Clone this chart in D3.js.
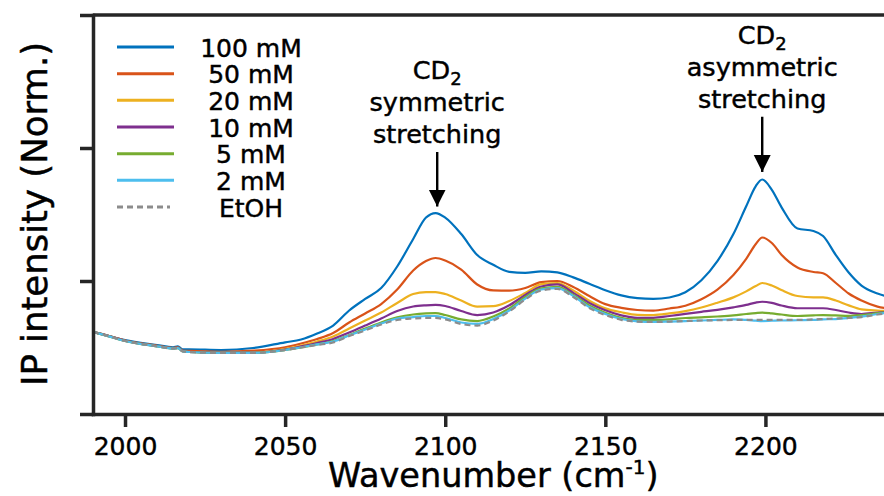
<!DOCTYPE html>
<html>
<head>
<meta charset="utf-8">
<script src="https://cdn.jsdelivr.net/npm/d3@7"></script>
<style>
body { margin: 0; background: #fff; }
text { font-family: "DejaVu Sans", Verdana, sans-serif; fill: #000; stroke: #000; stroke-width: 0.45px; }
</style>
</head>
<body>
<svg id="chart" width="884" height="496"></svg>
<script>
// spectra (normalised IP intensity)
var wavenumber = [1990, 1995, 2000, 2010, 2015, 2016.5, 2018, 2020, 2030, 2040, 2050, 2055, 2060, 2065, 2070, 2075, 2080, 2085, 2090, 2094, 2097, 2100, 2105, 2110, 2115, 2120, 2125, 2130, 2135, 2140, 2145, 2150, 2155, 2160, 2165, 2170, 2175, 2180, 2185, 2190, 2194, 2197, 2199, 2202, 2205, 2210, 2215, 2218, 2222, 2226, 2230, 2235, 2240];

var int100 = [0.617, 0.586, 0.556, 0.519, 0.502, 0.508, 0.486, 0.486, 0.481, 0.496, 0.539, 0.560, 0.605, 0.665, 0.778, 0.865, 0.947, 1.109, 1.316, 1.477, 1.511, 1.477, 1.353, 1.195, 1.122, 1.069, 1.061, 1.073, 1.065, 1.027, 0.979, 0.931, 0.892, 0.871, 0.865, 0.876, 0.916, 1.006, 1.150, 1.353, 1.562, 1.714, 1.763, 1.686, 1.556, 1.395, 1.376, 1.338, 1.195, 1.064, 0.966, 0.906, 0.872];
var int50 = [0.617, 0.586, 0.553, 0.513, 0.496, 0.502, 0.477, 0.474, 0.468, 0.476, 0.502, 0.530, 0.564, 0.609, 0.688, 0.756, 0.827, 0.936, 1.079, 1.150, 1.173, 1.154, 1.086, 0.974, 0.929, 0.927, 0.947, 0.992, 1.000, 0.955, 0.887, 0.826, 0.798, 0.782, 0.777, 0.793, 0.814, 0.863, 0.935, 1.045, 1.167, 1.278, 1.327, 1.286, 1.198, 1.102, 1.068, 1.058, 0.985, 0.906, 0.853, 0.807, 0.789];
var int20 = [0.617, 0.586, 0.551, 0.511, 0.494, 0.498, 0.474, 0.468, 0.461, 0.461, 0.490, 0.515, 0.545, 0.583, 0.643, 0.703, 0.763, 0.835, 0.902, 0.917, 0.917, 0.902, 0.853, 0.808, 0.811, 0.850, 0.910, 0.977, 0.985, 0.928, 0.851, 0.794, 0.765, 0.746, 0.744, 0.756, 0.774, 0.801, 0.837, 0.877, 0.922, 0.962, 0.985, 0.966, 0.932, 0.887, 0.877, 0.877, 0.853, 0.817, 0.787, 0.778, 0.774];
var int10 = [0.617, 0.586, 0.551, 0.511, 0.494, 0.498, 0.474, 0.468, 0.461, 0.461, 0.485, 0.508, 0.534, 0.564, 0.613, 0.665, 0.718, 0.774, 0.808, 0.817, 0.820, 0.812, 0.774, 0.744, 0.763, 0.817, 0.895, 0.959, 0.974, 0.911, 0.835, 0.780, 0.742, 0.723, 0.723, 0.737, 0.753, 0.768, 0.783, 0.802, 0.820, 0.838, 0.844, 0.835, 0.816, 0.795, 0.795, 0.795, 0.782, 0.763, 0.752, 0.763, 0.771];
var int5 = [0.617, 0.584, 0.549, 0.509, 0.492, 0.496, 0.471, 0.466, 0.459, 0.459, 0.481, 0.500, 0.523, 0.549, 0.594, 0.643, 0.688, 0.726, 0.748, 0.756, 0.758, 0.744, 0.711, 0.699, 0.733, 0.793, 0.880, 0.944, 0.956, 0.895, 0.816, 0.762, 0.724, 0.708, 0.708, 0.712, 0.722, 0.727, 0.733, 0.741, 0.752, 0.759, 0.762, 0.756, 0.748, 0.737, 0.742, 0.744, 0.741, 0.738, 0.744, 0.759, 0.774];
var int2 = [0.617, 0.584, 0.549, 0.509, 0.492, 0.496, 0.471, 0.466, 0.459, 0.459, 0.481, 0.502, 0.523, 0.545, 0.590, 0.635, 0.680, 0.718, 0.729, 0.737, 0.737, 0.722, 0.688, 0.677, 0.714, 0.778, 0.868, 0.936, 0.947, 0.887, 0.805, 0.752, 0.714, 0.697, 0.692, 0.695, 0.699, 0.703, 0.707, 0.711, 0.707, 0.702, 0.699, 0.701, 0.703, 0.705, 0.707, 0.711, 0.714, 0.722, 0.732, 0.752, 0.767];
var intEtOH = [0.617, 0.584, 0.549, 0.509, 0.492, 0.496, 0.471, 0.466, 0.459, 0.459, 0.481, 0.500, 0.519, 0.538, 0.586, 0.628, 0.673, 0.707, 0.718, 0.722, 0.722, 0.711, 0.677, 0.665, 0.703, 0.771, 0.861, 0.929, 0.941, 0.880, 0.797, 0.744, 0.708, 0.695, 0.692, 0.695, 0.699, 0.703, 0.705, 0.707, 0.707, 0.707, 0.707, 0.707, 0.707, 0.707, 0.711, 0.714, 0.718, 0.722, 0.729, 0.748, 0.763];

var seriesNames = ["100 mM", "50 mM", "20 mM", "10 mM", "5 mM", "2 mM", "EtOH"];
var seriesValues = [int100, int50, int20, int10, int5, int2, intEtOH];
var seriesColors = ["#0072BD", "#D95319", "#EDB120", "#7E2F8E", "#77AC30", "#4DBEEE", "#8c8c8c"];

var xTicks = [2000, 2050, 2100, 2150, 2200];
var yTicks = [0, 1, 2, 3];

var annotations = [
  {lines: ["symmetric", "stretching"], x: 2097.5, tip: 1.56, tail: 1.97},
  {lines: ["asymmetric", "stretching"], x: 2199, tip: 1.82, tail: 2.235}
];

//set up container

var svg = d3.select("#chart"),
margin = {top: 15, left: 93},
width = 800.5,
height = 399,
g = svg.append("g").attr("transform", "translate(" + margin.left + "," + margin.top + ")");

svg.insert("rect", ":first-child").attr("width", 884).attr("height", 496).attr("fill", "#fff");

var x = d3.scaleLinear().domain([1990, 2240]).range([0, width]);
var y = d3.scaleLinear().domain([0, 3]).range([height, 0]);

var series = seriesNames.map(function(name, i) {
  return {
    name: name,
    color: seriesColors[i],
    dashed: name == "EtOH",
    values: wavenumber.map(function(w, j) { return {w: w, v: seriesValues[i][j]}; })
  };
});

var line = d3.line()
.x(function(d) { return x(d.w); })
.y(function(d) { return y(d.v); })
.curve(d3.curveMonotoneX);

g.selectAll(".serie")
.data(series)
.enter().append("path")
.attr("class", "serie")
.attr("fill", "none")
.attr("stroke", function(d) { return d.color; })
.attr("stroke-width", 2.2)
.attr("stroke-dasharray", function(d) { return d.dashed ? "6,4" : null; })
.attr("d", function(d) { return line(d.values); });

// axes
var spine = "#262626";

var xAxis = g.append("g")
.attr("transform", "translate(0," + height + ")")
.call(d3.axisBottom(x).tickValues(xTicks).tickSize(13).tickSizeOuter(0).tickPadding(10).tickFormat(d3.format("d")));

var yAxis = g.append("g")
.call(d3.axisLeft(y).tickValues(yTicks).tickSize(13).tickSizeOuter(0).tickFormat(""));

g.append("line")
.attr("x1", 0).attr("x2", width)
.attr("y1", y(3)).attr("y2", y(3))
.attr("stroke", spine).attr("stroke-width", 3.5);

[xAxis, yAxis].forEach(function(a) {
  a.select(".domain").attr("stroke", spine).attr("stroke-width", 3.5).attr("stroke-linecap", "square");
  a.selectAll(".tick line").attr("stroke", spine).attr("stroke-width", 3.5);
  a.selectAll(".tick text").style("font-size", "25px").attr("fill", "#000");
});

// axis labels
var xl = svg.append("text")
.attr("x", margin.left + width / 2)
.attr("y", 487)
.attr("text-anchor", "middle")
.style("font-size", "33.5px");
xl.append("tspan").text("Wavenumber (cm");
xl.append("tspan").attr("dy", -13).style("font-size", "20px").text("-1");
xl.append("tspan").attr("dy", 13).text(")");

svg.append("text")
.attr("transform", "rotate(-90)")
.attr("x", -214)
.attr("y", 47)
.attr("text-anchor", "middle")
.style("font-size", "35.5px")
.text("IP intensity (Norm.)");

// legend
var legend = svg.selectAll(".legend")
.data(series)
.enter().append("g")
.attr("class", "legend")
.attr("transform", function(d, i) { return "translate(0," + (47 + i * 26.67) + ")"; });

legend.append("line")
.attr("x1", 117)
.attr("x2", function(d) { return d.dashed ? 170 : 174; })
.attr("stroke", function(d) { return d.color; })
.attr("stroke-width", 3)
.attr("stroke-dasharray", function(d) { return d.dashed ? "6,4" : null; });

legend.append("text")
.attr("x", 251)
.attr("dy", "0.38em")
.attr("text-anchor", "middle")
.style("font-size", "25px")
.text(function(d) { return d.name; });

// annotations with arrows
svg.append("defs").append("marker")
.attr("id", "head")
.attr("viewBox", "0 0 10 10")
.attr("refX", 10).attr("refY", 5)
.attr("markerWidth", 17).attr("markerHeight", 20)
.attr("markerUnits", "userSpaceOnUse")
.attr("orient", "auto")
.append("path")
.attr("d", "M0,0L10,5L0,10Z")
.attr("fill", "#000");

annotations.forEach(function(a) {
  var ax = x(a.x), tailY = y(a.tail), tipY = y(a.tip);
  g.append("line")
  .attr("x1", ax).attr("x2", ax)
  .attr("y1", tailY).attr("y2", tipY)
  .attr("stroke", "#000")
  .attr("stroke-width", 2.4)
  .attr("marker-end", "url(#head)");

  var t = g.append("text")
  .attr("text-anchor", "middle")
  .style("font-size", "25.5px");
  var base = tailY - 9 - 32 * a.lines.length;
  var cd = t.append("tspan").attr("x", ax).attr("y", base);
  cd.text("CD");
  t.append("tspan").attr("dy", 6).style("font-size", "18px").text("2");
  a.lines.forEach(function(s, i) {
    t.append("tspan").attr("x", ax).attr("y", base + 32 * (i + 1)).text(s);
  });
});
</script>
</body>
</html>
